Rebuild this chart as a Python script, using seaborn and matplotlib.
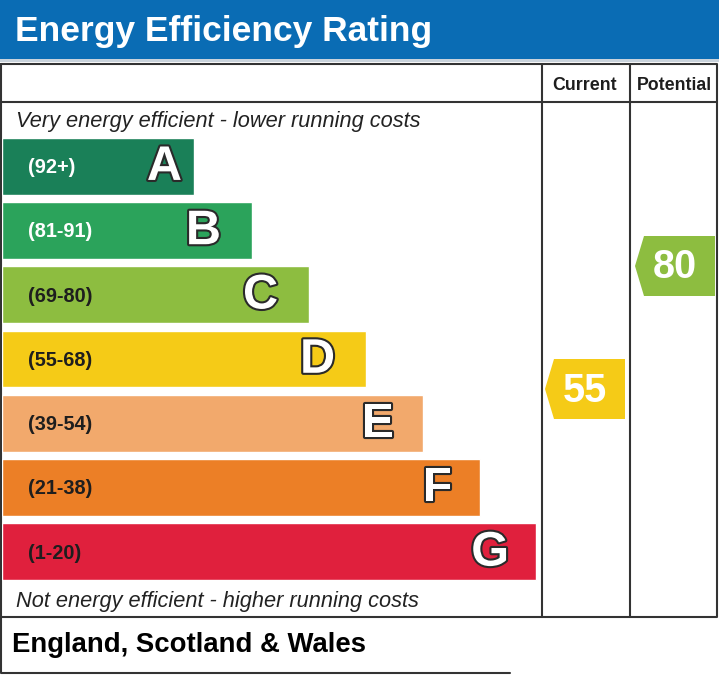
import matplotlib
matplotlib.use('Agg')
import matplotlib.pyplot as plt
import matplotlib.patheffects as pe
from matplotlib.patches import Rectangle, Polygon
import pandas as pd
import seaborn as sns

# band data
bands = ['A', 'B', 'C', 'D', 'E', 'F', 'G']
ranges = ['(92+)', '(81-91)', '(69-80)', '(55-68)', '(39-54)', '(21-38)', '(1-20)']
band_min = [92, 81, 69, 55, 39, 21, 1]
bar_len = [192, 250, 307, 364, 421, 478, 534]
colors = ['#1a8058', '#2ba35b', '#8dbd40', '#f5cb17', '#f2a96c', '#ec7f26', '#e0203d']
range_text_colors = ['white', 'white', '#1e1e1e', '#1e1e1e', '#1e1e1e', '#1e1e1e', '#1e1e1e']

current = 55
potential = 80

# layout: gap between letter and bar end
letter_pad = [12, 31, 31, 31, 29, 28, 27]

W, H = 719, 675
sns.set_theme(style='white')
plt.rcParams['font.family'] = ['Liberation Sans', 'DejaVu Sans']

fig = plt.figure(figsize=(W / 100, H / 100), dpi=100)
fig.patch.set_facecolor('white')

# full-figure axes in pixel units for the frame
ax = fig.add_axes([0, 0, 1, 1])
ax.set_xlim(0, W)
ax.set_ylim(H, 0)
ax.axis('off')

line_c = '#333333'
lw = 1.5

# blue title band
ax.add_patch(Rectangle((0, 0), W, 59, color='#0a6cb4', lw=0))
ax.add_patch(Rectangle((0, 59), W, 3, color='#c9d3dc', lw=0))
ax.text(15, 32, 'Energy Efficiency Rating', color='white', fontsize=25.5,
        fontweight='bold', va='center', ha='left')

# table frame
ax.plot([1, 717, 717, 1, 1], [64, 64, 617, 617, 64], color=line_c, lw=lw)
ax.plot([1, 717], [102, 102], color=line_c, lw=lw)
ax.plot([542, 542], [64, 617], color=line_c, lw=lw)
ax.plot([630, 630], [64, 617], color=line_c, lw=lw)
# bottom box
ax.plot([1, 1, 510], [617, 673, 673], color=line_c, lw=lw)

ax.text(585, 85, 'Current', fontsize=12.8, fontweight='bold', ha='center', va='center', color='#1e1e1e')
ax.text(674, 85, 'Potential', fontsize=12.8, fontweight='bold', ha='center', va='center', color='#1e1e1e')

ax.text(16, 121, 'Very energy efficient - lower running costs', fontsize=15.7,
        style='italic', ha='left', va='center', color='#222222')
ax.text(16, 601, 'Not energy efficient - higher running costs', fontsize=15.7,
        style='italic', ha='left', va='center', color='#222222')
ax.text(12, 645, 'England, Scotland & Wales', fontsize=19.8, fontweight='bold',
        ha='left', va='center', color='black')

# bars via seaborn on an axes spanning the band area
top_px, bot_px = 134, 584
bax = fig.add_axes([2 / W, 1 - bot_px / H, (W - 2) / W, (bot_px - top_px) / H])
df = pd.DataFrame({'band': bands, 'length': bar_len})
sns.barplot(data=df, x='length', y='band', hue='band', palette=colors,
            orient='h', width=0.885, legend=False, ax=bax, saturation=1)
bax.set_xlim(0, W - 2)
bax.set_ylim(len(bands) - 0.5, -0.5)
bax.axis('off')
bax.patch.set_alpha(0)

for i, (b, r) in enumerate(zip(bands, ranges)):
    bax.text(26, i + 0.02, r, fontsize=14.3, fontweight='bold', color=range_text_colors[i],
             ha='left', va='center')
    bax.text(bar_len[i] - letter_pad[i], i + 0.02, b, fontsize=35, fontweight='bold', color='white',
             ha='right', va='center',
             path_effects=[pe.withStroke(linewidth=3, foreground='#2a2a2a')])


def band_of(score):
    for i, m in enumerate(band_min):
        if score >= m:
            return i
    return len(band_min) - 1


def score_to_y(score):
    # linear score scale along the band area
    return 266 + (80 - score) * 4.92


def rating_arrow(score, x0, x1):
    yc = score_to_y(score)
    h = 60
    pts = [(x0, yc), (x0 + 9, yc - h / 2), (x1, yc - h / 2), (x1, yc + h / 2), (x0 + 9, yc + h / 2)]
    ax.add_patch(Polygon(pts, closed=True, color=colors[band_of(score)], lw=0))
    ax.text((x0 + x1) / 2, yc + 1.5, str(score), fontsize=28.5, fontweight='bold',
            color='white', ha='center', va='center')


rating_arrow(current, 545, 625)
rating_arrow(potential, 635, 715)

fig.savefig('out.png', dpi=100, facecolor='white')
